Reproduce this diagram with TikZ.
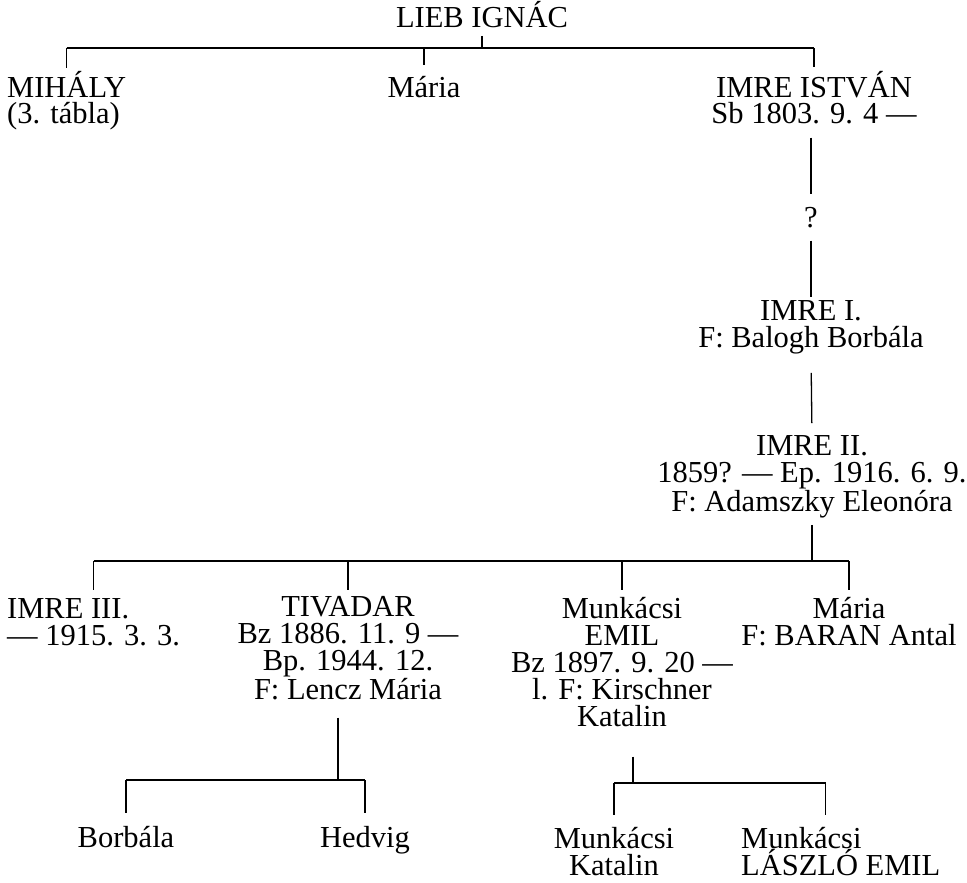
\documentclass[tikz,border=0pt]{standalone}
\usepackage{fontspec}
\setmainfont{Liberation Serif}
\begin{document}
\begin{tikzpicture}[x=1pt,y=-1pt,
  every node/.style={font=\fontsize{30.5}{27}\selectfont},
  szemely/.style={align=center, inner sep=0pt, anchor=base},
  balra/.style={align=left, inner sep=0pt, anchor=base west},
  vonal/.style={line width=1.3pt}]
\useasboundingbox (0,0) rectangle (967,883);
% Lieb Ignác
\node[szemely] (lieb) at (482,28) {LIEB IGNÁC};
% Gyermekei (az utolsó sor alapvonalán)
\node[balra] (mihaly) at (7,124) {MIHÁLY\\(3. tábla)};
\node[szemely] (maria) at (424,97) {Mária};
\node[szemely] (istvan) at (814,124) {IMRE ISTVÁN\\Sb 1803. 9. 4 —};
% Imre ág
\node[szemely] (kerdes) at (811,227) {?};
\node[szemely] (imre1) at (811,347) {IMRE I.\\F: Balogh Borbála};
\node[szemely] (imre2) at (812,511) {IMRE II.\\1859? — Ep. 1916. 6. 9.\\F: Adamszky Eleonóra};
% Imre II. gyermekei
\node[balra] (imre3) at (7,645) {IMRE III.\\— 1915. 3. 3.};
\node[szemely] (tivadar) at (348,699) {TIVADAR\\Bz 1886. 11. 9 —\\Bp. 1944. 12.\\F: Lencz Mária};
\node[szemely] (emil) at (622,726) {Munkácsi\\EMIL\\Bz 1897. 9. 20 —\\l. F: Kirschner\\Katalin};
\node[szemely] (maria2) at (849,645) {Mária\\F: BARAN Antal};
% Unokák
\node[szemely] (borbala) at (126,847) {Borbála};
\node[szemely] (hedvig) at (365,847) {Hedvig};
\node[szemely] (katalin) at (614,875) {Munkácsi\\Katalin};
\node[balra] (laszlo) at (741,875) {Munkácsi\\LÁSZLÓ EMIL};
% Vonalak: első sor
\coordinate (s1) at (0,48);
\draw[vonal, shorten <=8pt] (lieb.base) -- (lieb |- s1);
\draw[vonal] (mihaly |- s1) -- (istvan |- s1);
\foreach \n/\h in {mihaly/20, maria/17, istvan/19}
  \draw[vonal] (\n |- s1) -- ++(0,\h);
% Imre István -- Imre II.
\draw[vonal, shorten <=13pt, shorten >=13pt] (istvan.south -| kerdes) -- (kerdes.north);
\draw[vonal, shorten <=13pt, shorten >=3pt] (kerdes.south) -- (imre1.north);
\draw[vonal, shorten <=19pt, shorten >=12pt] (imre1.south) -- (imre2.north);
% Imre II. gyermekei
\coordinate (s3) at (0,561);
\draw[vonal, shorten <=7pt] (imre2.south) -- (imre2 |- s3);
\draw[vonal] (imre3 |- s3) -- (maria2 |- s3);
\foreach \n in {imre3, tivadar, emil, maria2}
  \draw[vonal] (\n |- s3) -- ++(0,29);
% Tivadar gyermekei
\coordinate (s4) at (0,780);
\draw[vonal, shorten <=18pt] ([xshift=-10pt]tivadar.south) -- ([xshift=-10pt]tivadar.south |- s4);
\draw[vonal] (borbala |- s4) -- (hedvig |- s4);
\foreach \n in {borbala, hedvig}
  \draw[vonal] (\n |- s4) -- ++(0,33);
% Emil gyermekei
\coordinate (s5) at (0,783);
\draw[vonal, shorten <=30pt] ([xshift=11pt]emil.south) -- ([xshift=11pt]emil.south |- s5);
\draw[vonal] (katalin |- s5) -- ([xshift=-15pt]laszlo |- s5);
\draw[vonal] (katalin |- s5) -- ++(0,32);
\draw[vonal] ([xshift=-15pt]laszlo |- s5) -- ++(0,32);
\end{tikzpicture}
\end{document}
